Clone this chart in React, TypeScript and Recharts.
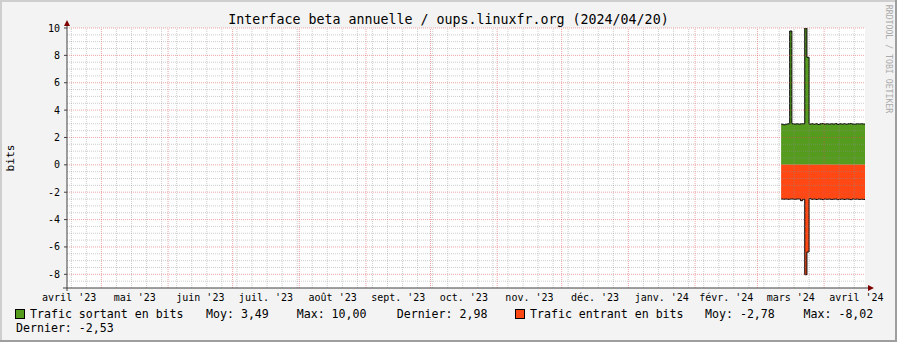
import {
  ComposedChart,
  Area,
  XAxis,
  YAxis,
  CartesianGrid,
  ReferenceLine,
  ReferenceDot,
} from "recharts";

const W = 897;
const H = 342;
const MONO = "'DejaVu Sans Mono', monospace";

// x axis = days since 2023-04-15, the graph ends on 2024-04-20
const lastDay = 371;
const firstDataDay = 332;

// one value per day
const sortant = [
  2.97, 2.93, 2.97, 3.0, 9.78, 3.0, 2.98, 3.0, 2.97, 3.0, 3.0, 10.0, 7.86,
  2.98, 3.0, 2.97, 3.0, 2.95, 3.0, 3.01, 2.98, 3.0, 2.97, 3.0, 2.98, 3.01,
  2.96, 3.0, 2.98, 3.0, 2.97, 3.0, 3.01, 2.98, 2.97, 3.0, 2.99, 3.0, 2.98,
];
const entrant = [
  -2.5, -2.51, -2.5, -2.52, -2.5, -2.5, -2.52, -2.5, -2.5, -2.62, -2.52,
  -8.03, -6.37, -2.48, -2.52, -2.5, -2.53, -2.5, -2.51, -2.54, -2.5, -2.52,
  -2.5, -2.53, -2.51, -2.5, -2.54, -2.52, -2.5, -2.53, -2.5, -2.51, -2.54,
  -2.5, -2.52, -2.5, -2.53, -2.51, -2.53,
];

const monthStarts = [16, 47, 77, 108, 139, 169, 200, 230, 261, 292, 321, 352];
const monthMiddles = [
  1, 31.5, 62, 92.5, 123.5, 154, 184.5, 215, 245.5, 276.5, 306.5, 336.5, 367,
];
const monthLabels = [
  "avril '23",
  "mai '23",
  "juin '23",
  "juil. '23",
  "août '23",
  "sept. '23",
  "oct. '23",
  "nov. '23",
  "déc. '23",
  "janv. '24",
  "févr. '24",
  "mars '24",
  "avril '24",
];
// mondays (2023-04-17 is day 2)
const mondays = Array.from({ length: 53 }, (_, i) => 2 + 7 * i).filter(
  (d) => !monthStarts.includes(d)
);

const yTicks = [-8, -6, -4, -2, 0, 2, 4, 6, 8, 10];
const yMinor = Array.from({ length: 38 }, (_, i) => -8.5 + i * 0.5).filter(
  (v) => v % 2 !== 0
);

const legendSortant = ["Trafic sortant en bits", "Moy: 3,49", "Max: 10,00", "Dernier: 2,98"];
const legendEntrant = ["Trafic entrant en bits", "Moy: -2,78", "Max: -8,02", "Dernier: -2,53"];

const GREEN = "#559B1E";
const ORANGE = "#FF4814";
const AXIS = "#404040";
const ARROW = "#800000";

const data = sortant.map((v, i) => ({
  day: firstDataDay + i,
  sortant: v,
  entrant: entrant[i],
}));
// close the last step at the right edge, like rrdtool does
data.push({
  day: lastDay,
  sortant: sortant[sortant.length - 1],
  entrant: entrant[entrant.length - 1],
});

const minorStyle = { stroke: "#8f8f8f", strokeOpacity: 0.45, strokeDasharray: "1 1" };
const majorStyle = { stroke: "#de5050", strokeOpacity: 0.5, strokeDasharray: "1 1" };

const App = () => {
  return (
    <div
      style={{
        position: "absolute",
        left: 0,
        top: 0,
        width: W,
        height: H,
        background: "#f3f3f3",
      }}
    >
      <ComposedChart
        width={W}
        height={H}
        data={data}
        margin={{ top: 28, right: 32, bottom: 0, left: 0 }}
      >
        <CartesianGrid fill="#fff" stroke="none" horizontal={false} vertical={false} />
        <XAxis
          type="number"
          dataKey="day"
          domain={[0, lastDay]}
          allowDataOverflow
          ticks={monthMiddles}
          interval={0}
          tickFormatter={(v: number) => monthLabels[monthMiddles.indexOf(v)]}
          height={54}
          tickLine={false}
          tickSize={0}
          tickMargin={6}
          axisLine={{ stroke: AXIS }}
          tick={{ fontFamily: MONO, fontSize: 10, fill: "#000" }}
        />
        <YAxis
          type="number"
          domain={[-9, 10]}
          allowDataOverflow
          ticks={yTicks}
          interval={0}
          width={67}
          tickSize={3}
          tickMargin={4}
          axisLine={{ stroke: AXIS }}
          tickLine={{ stroke: AXIS }}
          tick={{ fontFamily: MONO, fontSize: 10, fill: "#000" }}
        />
        <Area
          dataKey="sortant"
          type="stepAfter"
          baseValue={0}
          fill={GREEN}
          fillOpacity={1}
          stroke="#000"
          strokeWidth={1}
          dot={false}
          activeDot={false}
          isAnimationActive={false}
        />
        <Area
          dataKey="entrant"
          type="stepAfter"
          baseValue={0}
          fill={ORANGE}
          fillOpacity={1}
          stroke="#000"
          strokeWidth={1}
          dot={false}
          activeDot={false}
          isAnimationActive={false}
        />
        {yMinor.map((v) => (
          <ReferenceLine key={"hy" + v} y={v} {...minorStyle} />
        ))}
        {mondays.map((d) => (
          <ReferenceLine key={"wx" + d} x={d} {...minorStyle} />
        ))}
        {yTicks.map((v) => (
          <ReferenceLine key={"my" + v} y={v} {...majorStyle} />
        ))}
        {monthStarts.map((d) => (
          <ReferenceLine key={"mx" + d} x={d} {...majorStyle} />
        ))}
        <ReferenceDot
          x={lastDay}
          y={-9}
          r={0}
          ifOverflow="visible"
          shape={(p: any) => (
            <g>
              <line x1={p.cx} y1={p.cy} x2={p.cx + 4} y2={p.cy} stroke={AXIS} />
              <path
                d={`M${p.cx + 3},${p.cy - 3} L${p.cx + 9},${p.cy} L${p.cx + 3},${p.cy + 3} Z`}
                fill={ARROW}
              />
            </g>
          )}
        />
        <ReferenceDot
          x={0}
          y={10}
          r={0}
          ifOverflow="visible"
          shape={(p: any) => (
            <g>
              <line x1={p.cx} y1={p.cy} x2={p.cx} y2={p.cy - 3} stroke={AXIS} />
              <path
                d={`M${p.cx - 3},${p.cy - 2} L${p.cx},${p.cy - 8} L${p.cx + 3},${p.cy - 2} Z`}
                fill={ARROW}
              />
            </g>
          )}
        />
        <ReferenceDot
          x={0}
          y={-9}
          r={0}
          ifOverflow="visible"
          shape={(p: any) => (
            <g stroke={AXIS}>
              <line x1={p.cx - 4} y1={p.cy} x2={p.cx} y2={p.cy} />
              <line x1={p.cx} y1={p.cy} x2={p.cx} y2={p.cy + 3} />
            </g>
          )}
        />
      </ComposedChart>
      <svg
        width={W}
        height={H}
        style={{ position: "absolute", left: 0, top: 0, pointerEvents: "none" }}
      >
        <rect x={0} y={0} width={W} height={2} fill="#cecece" />
        <rect x={0} y={0} width={2} height={H} fill="#cecece" />
        <rect x={0} y={H - 2} width={W} height={2} fill="#9e9e9e" />
        <rect x={W - 2} y={0} width={2} height={H} fill="#9e9e9e" />
        <text
          x={448.5}
          y={24}
          textAnchor="middle"
          fontFamily={MONO}
          fontSize={13.3}
          fill="#000"
        >
          Interface beta annuelle / oups.linuxfr.org (2024/04/20)
        </text>
        <text
          transform="translate(14,158) rotate(-90)"
          textAnchor="middle"
          fontFamily={MONO}
          fontSize={11.2}
          fill="#000"
        >
          bits
        </text>
        <text
          transform="translate(885.5,59) rotate(90)"
          textAnchor="middle"
          fontFamily={MONO}
          fontSize={8.2}
          fill="#aaaaaa"
        >
          RRDTOOL / TOBI OETIKER
        </text>
        <g fontFamily={MONO} fontSize={11.6} fill="#000">
          <rect x={15.5} y={309.5} width={9} height={9} fill={GREEN} stroke="#000" />
          <text x={30} y={317.5}>{legendSortant[0]}</text>
          <text x={206} y={317.5}>{legendSortant[1]}</text>
          <text x={296.7} y={317.5}>{legendSortant[2]}</text>
          <text x={396.7} y={317.5}>{legendSortant[3]}</text>
          <rect x={515.5} y={309.5} width={9} height={9} fill={ORANGE} stroke="#000" />
          <text x={530} y={317.5}>{legendEntrant[0]}</text>
          <text x={705} y={317.5}>{legendEntrant[1]}</text>
          <text x={803.5} y={317.5}>{legendEntrant[2]}</text>
          <text x={16} y={331.8}>{legendEntrant[3]}</text>
        </g>
      </svg>
    </div>
  );
};

export default App;
